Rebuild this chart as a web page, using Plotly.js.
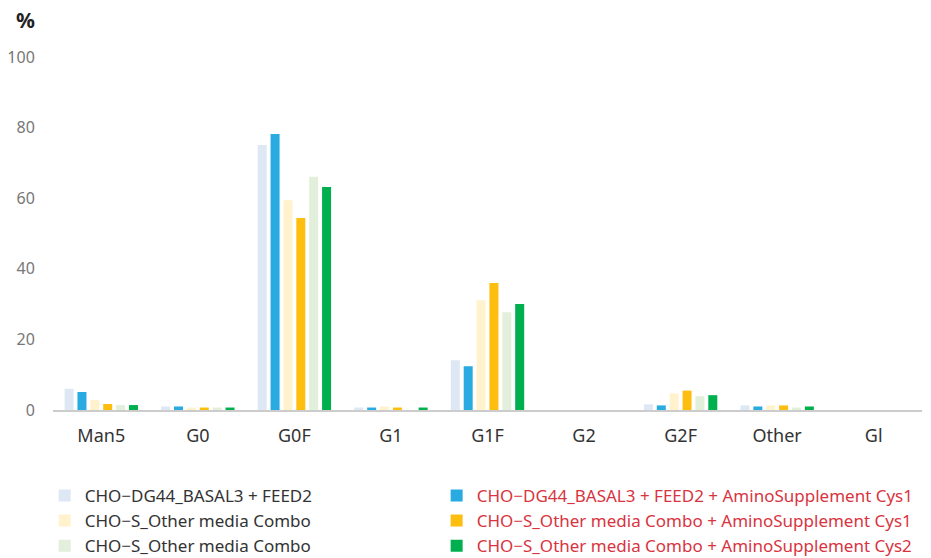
<!DOCTYPE html>
<html><head><meta charset="utf-8">
<script src="https://cdn.plot.ly/plotly-3.0.1.min.js"></script>
<style>html,body{margin:0;padding:0;background:#fff}#chart{width:931px;height:558px}</style>
</head><body><div id="chart"></div>
<script>
const categories = ["Man5","G0","G0F","G1","G1F","G2","G2F","Other","Gl"];
const seriesNames = [
  "CHO−DG44_BASAL3 + FEED2",
  "CHO−DG44_BASAL3 + FEED2 + AminoSupplement Cys1",
  "CHO−S_Other media Combo",
  "CHO−S_Other media Combo + AminoSupplement Cys1",
  "CHO−S_Other media Combo",
  "CHO−S_Other media Combo + AminoSupplement Cys2"
];
const dg44Basal   = [6.0, 1.0, 75.1, 0.7, 14.1, 0, 1.6, 1.3, 0];
const dg44Cys1    = [5.1, 1.0, 78.2, 0.7, 12.4, 0, 1.3, 1.0, 0];
const choSOther   = [2.8, 0.7, 59.4, 1.0, 31.1, 0, 4.7, 1.3, 0];
const choSCys1    = [1.7, 0.7, 54.4, 0.7, 36.0, 0, 5.5, 1.3, 0];
const choSOther2  = [1.4, 0.7, 66.1, 0.0, 27.7, 0, 3.9, 0.7, 0];
const choSCys2    = [1.4, 0.7, 63.2, 0.7, 30.0, 0, 4.2, 1.0, 0];
const seriesValues = [dg44Basal, dg44Cys1, choSOther, choSCys1, choSOther2, choSCys2];
const colors = ["#dde8f4","#29abe2","#fff2cc","#fdbe10","#e2efda","#00b04f"];
const isSupplement = [false, true, false, true, false, true];

const traces = seriesValues.map((vals, i) => ({
  type: "bar",
  x: categories,
  y: vals,
  name: seriesNames[i],
  legend: isSupplement[i] ? "legend2" : "legend",
  marker: {color: colors[i]},
  hoverinfo: "skip"
}));

const legendCommon = {
  orientation: "v",
  xref: "container", yref: "container",
  xanchor: "left", yanchor: "top",
  y: 0.1435,
  traceorder: "normal",
  bgcolor: "rgba(0,0,0,0)",
  itemwidth: 30
};

const layout = {
  width: 931, height: 558,
  margin: {l: 53, r: 9, t: 57, b: 148, autoexpand: false},
  paper_bgcolor: "#fff", plot_bgcolor: "#fff",
  font: {family: "Noto Sans, Open Sans, sans-serif", color: "#333"},
  barmode: "group",
  bargap: 0.2,
  bargroupgap: 0.3,
  showlegend: true,
  legend: Object.assign({}, legendCommon, {x: 0.048, font: {size: 17, color: "#333"}}),
  legend2: Object.assign({}, legendCommon, {x: 0.469, font: {size: 17, color: "#d8343f"}}),
  xaxis: {
    type: "category",
    showline: true, linecolor: "#cccccc", linewidth: 2,
    showgrid: false, zeroline: false,
    ticks: "outside", ticklen: 8, tickcolor: "rgba(0,0,0,0)",
    tickfont: {size: 18, color: "#333"}
  },
  yaxis: {
    range: [0, 100],
    tickvals: [0,20,40,60,80,100],
    showgrid: false, zeroline: false, showline: false,
    ticks: "outside", ticklen: 14, tickcolor: "rgba(0,0,0,0)",
    tickfont: {size: 16, color: "#777"}
  },
  annotations: [{
    text: "<b>%</b>", xref: "paper", yref: "paper",
    x: -0.045, y: 1.105, xanchor: "left", yanchor: "middle",
    showarrow: false, font: {size: 21, color: "#222"}
  }]
};
Plotly.newPlot("chart", traces, layout, {displayModeBar: false, staticPlot: true});
</script></body></html>
